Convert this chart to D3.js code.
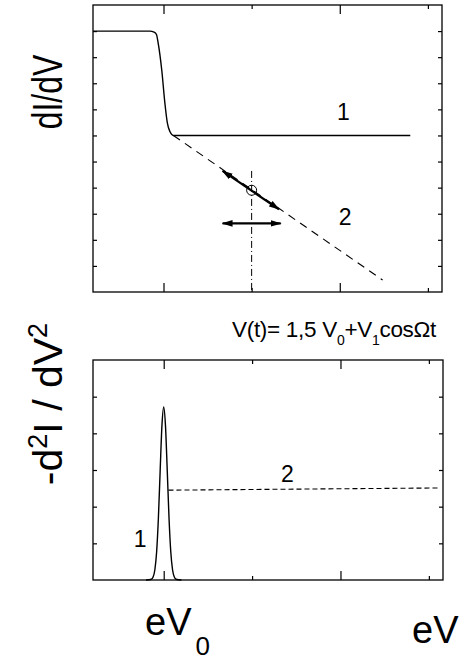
<!DOCTYPE html>
<html><head><meta charset="utf-8">
<script src="https://cdn.jsdelivr.net/npm/d3@7"></script>
<style>body{margin:0;background:#fff} text{font-family:"Liberation Sans",Arial,sans-serif;fill:#000}</style>
</head><body><svg id="c" width="467" height="661"></svg>
<script>
// ---- data ----
const xDomain = [0.6, 2.58];
const xMajorTicks = [1, 2];
const xMinorTicks = [1.5, 2.5];
const topYDomain = [0, 11];
const topYTicks = [1, 2, 3, 4, 5, 6, 7, 8, 9, 10];
const botYDomain = [0, 6];
const botYTicks = [1, 2, 3, 4, 5];
// top panel: dI/dV
const curve1Top = [[0.6,10],[0.923,10],[0.946,9.96],[0.960,9.87],[0.970,9.53],[0.990,8.51],[1.008,7.23],[1.022,6.47],[1.037,6.14],[1.056,6.0],[2.40,6.0]];
const curve2Top = [[1.056,6.0],[2.243,0.46]];
const slantArrow = [[1.335,4.64],[1.655,3.17]];
const horizArrow = [[1.335,2.63],[1.665,2.63]];
const workPoint = [1.5, 3.9];
const vLine = [[1.5,4.64],[1.5,0]];
// bottom panel: -d2I/dV2
const peak = [[0.90,0],[0.93,0.02],[0.94,0.08],[0.95,0.28],[0.96,0.77],[0.97,1.70],[0.98,2.99],[0.99,4.21],[1.00,4.72],[1.01,4.21],[1.02,2.99],[1.03,1.70],[1.04,0.77],[1.05,0.28],[1.06,0.08],[1.07,0.02],[1.10,0]];
const dashBottom = [[1.027,2.45],[2.55,2.51]];
const topLabels = [{t:"1", x:2.02, y:6.6}, {t:"2", x:2.03, y:2.56}];
const botLabels = [{t:"1", x:0.867, y:0.9}, {t:"2", x:1.70, y:2.67}];

// ---- drawing ----
const svg = d3.select("#c");
const defs = svg.append("defs");
defs.append("marker").attr("id","ah").attr("markerUnits","userSpaceOnUse")
  .attr("viewBox","0 -4 11 8").attr("refX",10).attr("refY",0)
  .attr("markerWidth",11).attr("markerHeight",8).attr("orient","auto-start-reverse")
  .append("path").attr("d","M0,-3.3L11,0L0,3.3Z").attr("fill","#000");

function panel(x, y, yTicks) {
  const [x0, x1] = x.range(); const [y0, y1] = y.range();
  const g = svg.append("g");
  const ax = (gen, tr, vals, size) => {
    const a = g.append("g").attr("transform", tr)
      .call(gen.tickValues(vals).tickSizeInner(size).tickSizeOuter(0).tickFormat(""));
    a.select(".domain").remove();
    a.selectAll("line").attr("stroke","#000").attr("stroke-width",1.2);
  };
  ax(d3.axisBottom(x), `translate(0,${y0})`, xMajorTicks, -9);
  ax(d3.axisBottom(x), `translate(0,${y0})`, xMinorTicks, -4);
  ax(d3.axisTop(x), `translate(0,${y1})`, xMajorTicks, -9);
  ax(d3.axisTop(x), `translate(0,${y1})`, xMinorTicks, -4);
  ax(d3.axisLeft(y), `translate(${x0},0)`, yTicks, -4);
  ax(d3.axisRight(y), `translate(${x1},0)`, yTicks, -4);
  g.append("rect").attr("x",x0).attr("y",y1).attr("width",x1-x0).attr("height",y0-y1)
    .attr("fill","none").attr("stroke","#000").attr("stroke-width",1.3);
  return g;
}

// top panel
const xT = d3.scaleLinear().domain(xDomain).range([93, 442]);
const yT = d3.scaleLinear().domain(topYDomain).range([292, 5]);
const gT = panel(xT, yT, topYTicks);
const lineT = d3.line().x(d=>xT(d[0])).y(d=>yT(d[1]));
gT.append("path").datum(curve1Top).attr("d", lineT.curve(d3.curveMonotoneX))
  .attr("fill","none").attr("stroke","#000").attr("stroke-width",1.4);
gT.append("path").datum(curve2Top).attr("d", d3.line().x(d=>xT(d[0])).y(d=>yT(d[1])))
  .attr("fill","none").attr("stroke","#000").attr("stroke-width",1.1).attr("stroke-dasharray","8,6");
gT.append("path").datum(vLine).attr("d", d3.line().x(d=>xT(d[0])).y(d=>yT(d[1])))
  .attr("fill","none").attr("stroke","#000").attr("stroke-width",1).attr("stroke-dasharray","7,3,1,3");
[slantArrow, horizArrow].forEach(a => {
  gT.append("path").datum(a).attr("d", d3.line().x(d=>xT(d[0])).y(d=>yT(d[1])))
    .attr("fill","none").attr("stroke","#000").attr("stroke-width",2.2)
    .attr("marker-start","url(#ah)").attr("marker-end","url(#ah)");
});
gT.append("circle").attr("cx",xT(workPoint[0])).attr("cy",yT(workPoint[1])).attr("r",5)
  .attr("fill","none").attr("stroke","#000").attr("stroke-width",1);
gT.selectAll("text.lab").data(topLabels).enter().append("text")
  .attr("x",d=>xT(d.x)).attr("y",d=>yT(d.y)).attr("text-anchor","middle")
  .attr("font-size",23).text(d=>d.t);

// bottom panel
const xB = d3.scaleLinear().domain(xDomain).range([93, 443]);
const yB = d3.scaleLinear().domain(botYDomain).range([580, 360]);
const gB = panel(xB, yB, botYTicks);
gB.append("path").datum(peak).attr("d", d3.line().x(d=>xB(d[0])).y(d=>yB(d[1])).curve(d3.curveMonotoneX))
  .attr("fill","none").attr("stroke","#000").attr("stroke-width",1.4);
gB.append("path").datum(dashBottom).attr("d", d3.line().x(d=>xB(d[0])).y(d=>yB(d[1])))
  .attr("fill","none").attr("stroke","#000").attr("stroke-width",1.1).attr("stroke-dasharray","5,3");
gB.selectAll("text.lab").data(botLabels).enter().append("text")
  .attr("x",d=>xB(d.x)).attr("y",d=>yB(d.y)).attr("text-anchor","middle")
  .attr("font-size",23).text(d=>d.t);

// title
const title = svg.append("text").attr("x",232).attr("y",337).attr("font-size",22.5)
  .attr("letter-spacing","-0.3");
title.append("tspan").text("V(t)= 1,5 V");
title.append("tspan").attr("font-size",14).attr("dy",8).text("0");
title.append("tspan").attr("dy",-8).text("+V");
title.append("tspan").attr("font-size",14).attr("dy",8).text("1");
title.append("tspan").attr("dy",-8).text("cos\u03A9t");

// x labels
const xl = svg.append("text").attr("x",145).attr("y",635).attr("font-size",38);
xl.append("tspan").text("eV");
xl.append("tspan").attr("font-size",26).attr("dx",4).attr("dy",20).text("0");
svg.append("text").attr("x",412).attr("y",643).attr("font-size",38).text("eV");

// y labels
svg.append("text").attr("transform","translate(62,92) rotate(-90) scale(0.76,1)").attr("text-anchor","middle")
  .attr("font-size",42).text("dI/dV");
const yl = svg.append("text").attr("transform","translate(62,404) rotate(-90)").attr("text-anchor","middle")
  .attr("font-size",41);
yl.append("tspan").text("-d");
yl.append("tspan").attr("font-size",27).attr("dy",-15).text("2");
yl.append("tspan").attr("dy",15).text("I / dV");
yl.append("tspan").attr("font-size",27).attr("dy",-15).text("2");
</script></body></html>
